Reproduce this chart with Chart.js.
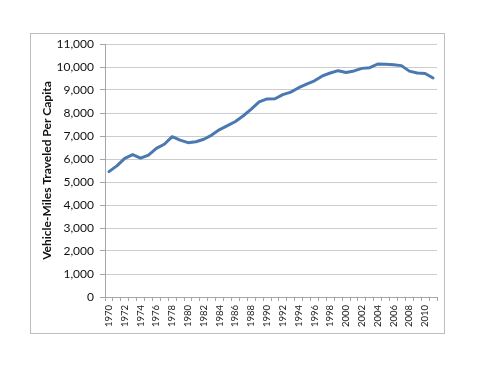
<!DOCTYPE html>
<html>
<head>
<meta charset="utf-8">
<script src="https://cdn.jsdelivr.net/npm/chart.js@4/dist/chart.umd.min.js"></script>
<style>
  html, body { margin: 0; padding: 0; background: #fff; }
  #wrap { position: relative; width: 480px; height: 371px; }
  #c { position: absolute; left: 0; top: 0; }
  #frame { position: absolute; left: 30px; top: 33px; width: 413px; height: 299px; border: 1px solid #bdbdbd; pointer-events: none; }
</style>
</head>
<body>
<div id="wrap">
  <canvas id="c" width="480" height="371"></canvas>
  <div id="frame"></div>
</div>
<script>
const years = [];
for (let y = 1970; y <= 2011; y++) years.push(String(y));

const vmtPerCapita = [
  5450, 5700, 6030, 6190, 6040, 6170, 6460, 6640, 6970, 6820,
  6710, 6750, 6860, 7040, 7280, 7450, 7630, 7880, 8170, 8480,
  8610, 8620, 8800, 8910, 9100, 9260, 9400, 9610, 9740, 9840,
  9760, 9830, 9940, 9970, 10130, 10120, 10100, 10060, 9820, 9740,
  9720, 9520
];

const yMin = 0, yMax = 11000, yStep = 1000;
const yTitle = 'Vehicle-Miles Traveled Per Capita';

const FONT = 'Lato, "Open Sans", sans-serif';

new Chart(document.getElementById('c'), {
  type: 'line',
  data: {
    labels: years,
    datasets: [{
      data: vmtPerCapita,
      borderColor: '#4a78b0',
      borderWidth: 3,
      pointRadius: 0,
      tension: 0,
      borderJoinStyle: 'round',
      borderCapStyle: 'round',
      fill: false
    }]
  },
  options: {
    responsive: false,
    animation: false,
    events: [],
    layout: { padding: { left: 30, top: 44, right: 43, bottom: 0 } },
    plugins: { legend: { display: false }, tooltip: { enabled: false } },
    scales: {
      x: {
        type: 'category',
        offset: true,
        grid: { offset: true, drawOnChartArea: false, color: '#a6a6a6', tickLength: 4, tickWidth: 1 },
        border: { color: '#a6a6a6', width: 1 },
        ticks: {
          autoSkip: false,
          maxRotation: 90,
          minRotation: 90,
          padding: 4,
          color: '#222',
          font: { family: FONT, size: 9.5 },
          callback: function(v, i) { return i % 2 === 0 ? this.getLabelForValue(v) : ''; }
        },
        afterFit: function(s) { s.height = 371 - 297; }
      },
      y: {
        min: yMin, max: yMax,
        grid: { color: '#cccccc', lineWidth: 1, tickLength: 5, tickColor: '#a6a6a6' },
        border: { color: '#a6a6a6', width: 1 },
        ticks: {
          stepSize: yStep,
          padding: 6,
          color: '#111',
          font: { family: FONT, size: 12 },
          callback: v => v.toLocaleString('en-US')
        },
        title: {
          display: true,
          text: yTitle,
          color: '#111',
          font: { family: FONT, size: 12, weight: 'bold' },
          padding: { top: 10, bottom: 0 }
        },
        afterFit: function(s) { s.width = 105 - 30; }
      }
    }
  }
});
</script>
</body>
</html>
